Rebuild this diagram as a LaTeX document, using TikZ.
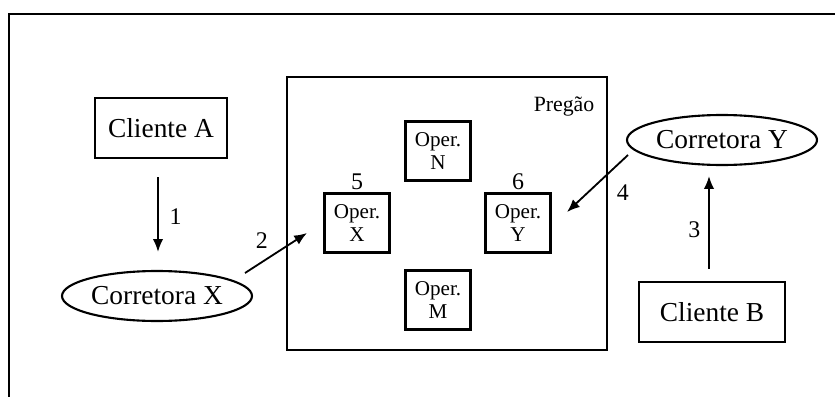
\documentclass[tikz,border=0pt]{standalone}
\usepackage{fontspec}
\setmainfont{Liberation Serif}
\usepackage{tikz}
\usetikzlibrary{arrows.meta,shapes.geometric}

\begin{document}
\begin{tikzpicture}[line width=1.5pt,
  box/.style={draw,rectangle,minimum height=1.5cm,font=\fontsize{19.5}{22}\selectfont},
  oval/.style={draw,ellipse,inner sep=0pt,minimum height=1.25cm,minimum width=4.75cm,font=\fontsize{19.5}{22}\selectfont},
  oper/.style={draw,rectangle,align=center,minimum width=1.625cm,minimum height=1.475cm,inner sep=1pt,font=\fontsize{15}{16.5}\selectfont},
  num/.style={font=\fontsize{17}{19}\selectfont},
  arr/.style={-{Latex[length=0.32cm,width=0.26cm]},line width=1.3pt}]
\useasboundingbox (0cm,0cm) rectangle (20.875cm,-9.9cm);
\clip (0cm,0cm) rectangle (20.875cm,-9.9cm);
\draw[black] (0.225cm,-10.5cm) -- (0.225cm,-0.35cm) -- (21.5cm,-0.35cm);
\node[box,minimum width=3.3cm] (1) at (4.025cm,-3.2cm) {Cliente A};
\node[oval] (2) at (3.925cm,-7.4cm) {Corretora X};
\node[draw,rectangle,minimum width=8cm,minimum height=6.825cm] (3) at (11.175cm,-5.3375cm) {};
\node[font=\fontsize{15.5}{18}\selectfont,anchor=east] (preg) at (15.0cm,-2.675cm) {Pregão};
\node[oper] (4) at (8.925cm,-5.575cm) {Oper.\\X};
\node[oper] (5) at (10.95cm,-3.775cm) {Oper.\\N};
\node[oper] (6) at (12.95cm,-5.575cm) {Oper.\\Y};
\node[oper] (7) at (10.95cm,-7.5cm) {Oper.\\M};
\node[num] (n5) at (8.925cm,-4.55cm) {5};
\node[num] (n6) at (12.95cm,-4.55cm) {6};
\node[oval] (8) at (18.05cm,-3.5cm) {Corretora Y};
\node[box,minimum width=3.65cm] (9) at (17.8cm,-7.8cm) {Cliente B};
\coordinate (s2) at (6.125cm,-6.825cm);
\coordinate (e2) at (7.675cm,-5.825cm);
\coordinate (s4) at (15.7cm,-3.875cm);
\coordinate (e4) at (14.175cm,-5.3cm);
\draw[arr] ([xshift=-0.075cm,yshift=-0.45cm]1.south) -- ([xshift=0.025cm,yshift=0.45cm]2.north) node[num,pos=0.53,right,xshift=0.15cm] {1};
\draw[arr] (s2) -- (e2) node[num,pos=0.27,above=0.2cm] {2};
\draw[arr] ([xshift=-0.075cm,yshift=0.3cm]9.north) -- ([xshift=-0.325cm,yshift=-0.25cm]8.south) node[num,pos=0.42,left,xshift=-0.08cm] {3};
\draw[arr] (s4) -- (e4) node[num,pos=0.667,right=0.6cm] {4};
\end{tikzpicture}
\end{document}
